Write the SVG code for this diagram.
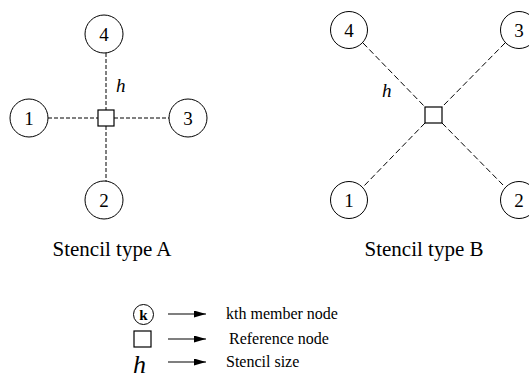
<svg xmlns="http://www.w3.org/2000/svg" width="529" height="384" viewBox="0 0 529 384">
  <style>
    .node circle { fill: #fff; stroke: #000; stroke-width: 1; }
    .ref rect { fill: #fff; stroke: #000; stroke-width: 1.2; }
    .num { font-family: "Liberation Serif", "Times New Roman", serif; font-size: 19px; text-anchor: middle; fill: #000; }
    .cap { font-family: "Liberation Serif", "Times New Roman", serif; font-size: 21px; text-anchor: middle; fill: #000; }
    .leg { font-family: "Liberation Serif", "Times New Roman", serif; font-size: 16px; fill: #000; }
    .hlab { font-family: "Liberation Serif", "Times New Roman", serif; font-style: italic; font-size: 19px; fill: #000; }
    .dashA { stroke: #000; stroke-width: 1; stroke-dasharray: 4 2; fill: none; }
    .dashB { stroke: #000; stroke-width: 1; stroke-dasharray: 6 3; fill: none; }
    .arr { stroke: #000; stroke-width: 1.2; fill: none; marker-end: url(#head); }
  </style>
  <defs>
    <marker id="head" viewBox="0 0 12 7" refX="12" refY="3.5" markerWidth="12" markerHeight="7" markerUnits="userSpaceOnUse" orient="auto">
      <path d="M0,0 L12,3.5 L0,7 Z" fill="#000"/>
    </marker>
  </defs>

  <!-- connectors -->
  <g id="connectors">
    <!-- stencil A -->
    <line class="dashA" x1="106" y1="53" x2="106" y2="110"/>
    <line class="dashA" x1="106" y1="126" x2="106" y2="182"/>
    <line class="dashA" x1="48" y1="118" x2="98" y2="118"/>
    <line class="dashA" x1="114" y1="118" x2="170" y2="118"/>
    <!-- stencil B -->
    <line class="dashB" x1="363" y1="43" x2="425" y2="107"/>
    <line class="dashB" x1="505" y1="43" x2="442" y2="107"/>
    <line class="dashB" x1="425" y1="123" x2="363" y2="187"/>
    <line class="dashB" x1="442" y1="123" x2="505" y2="187"/>
    <!-- legend arrows -->
    <line class="arr" x1="168" y1="314" x2="206" y2="314"/>
    <line class="arr" x1="168" y1="339" x2="206" y2="339"/>
    <line class="arr" x1="168" y1="362" x2="206" y2="362"/>
  </g>

  <!-- stencil A nodes -->
  <g id="a-node-4" class="node"><circle cx="104" cy="34" r="19"/><text class="num" x="104" y="41">4</text></g>
  <g id="a-node-1" class="node"><circle cx="29" cy="118" r="19"/><text class="num" x="29" y="125">1</text></g>
  <g id="a-node-3" class="node"><circle cx="188" cy="118" r="19"/><text class="num" x="188" y="125">3</text></g>
  <g id="a-node-2" class="node"><circle cx="104" cy="200" r="19"/><text class="num" x="104" y="207">2</text></g>
  <g id="a-ref" class="ref"><rect x="98" y="110" width="16" height="16"/></g>
  <text id="a-h" class="hlab" x="116" y="92">h</text>

  <!-- stencil B nodes -->
  <g id="b-node-4" class="node"><circle cx="349" cy="30" r="18.5"/><text class="num" x="349" y="37">4</text></g>
  <g id="b-node-3" class="node"><circle cx="519" cy="30" r="18.5"/><text class="num" x="519" y="37">3</text></g>
  <g id="b-node-1" class="node"><circle cx="349" cy="200" r="18.5"/><text class="num" x="349" y="207">1</text></g>
  <g id="b-node-2" class="node"><circle cx="519" cy="200" r="18.5"/><text class="num" x="519" y="207">2</text></g>
  <g id="b-ref" class="ref"><rect x="425" y="107" width="17" height="16"/></g>
  <text id="b-h" class="hlab" x="382" y="97">h</text>

  <!-- captions -->
  <text class="cap" x="112" y="256">Stencil type A</text>
  <text class="cap" x="424" y="256">Stencil type B</text>

  <!-- legend -->
  <g id="legend-member" class="node">
    <circle cx="143.5" cy="314.5" r="10"/>
    <text x="143.5" y="319.5" style="font-family:'Liberation Serif',serif;font-size:15px;font-weight:bold;text-anchor:middle">k</text>
  </g>
  <g id="legend-ref" class="ref"><rect x="134" y="331" width="17" height="16"/></g>
  <text id="legend-h" class="hlab" x="133" y="373" style="font-size:26px">h</text>
  <text class="leg" x="226" y="319">kth member node</text>
  <text class="leg" x="229" y="344">Reference node</text>
  <text class="leg" x="226" y="367">Stencil size</text>
</svg>
